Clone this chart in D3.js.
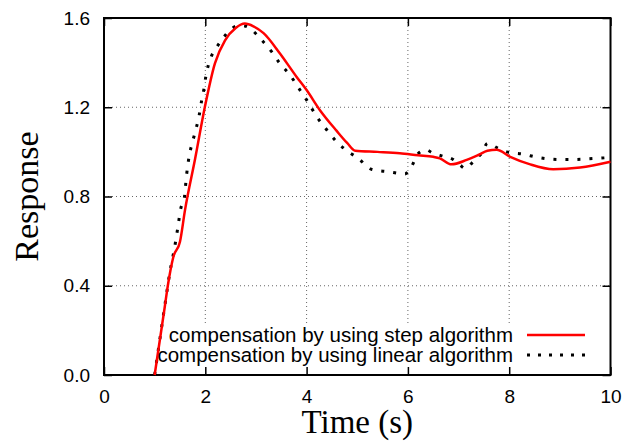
<!DOCTYPE html>
<html>
<head>
<meta charset="utf-8">
<script src="https://cdn.jsdelivr.net/npm/d3@7"></script>
<style>
  body { margin: 0; background: #fff; }
  svg text { font-family: "Liberation Sans", Arial, sans-serif; }
  .title { font-family: "Liberation Serif", "Times New Roman", serif; }
</style>
</head>
<body>
<div class="chart"></div>
<script>
// step algorithm (red)
var timeStep = [1.0, 1.2, 1.26, 1.37, 1.5, 1.6, 1.8, 1.99, 2.19, 2.39, 2.6, 2.78, 2.95, 3.15, 3.47, 3.8, 4.0, 4.26, 4.59, 4.8, 4.96,
                5.4, 5.84, 6.2, 6.5, 6.63, 6.86, 7.16, 7.39, 7.57, 7.75, 8.02, 8.4, 8.87, 9.4, 10];
var respStep = [0, 0.306, 0.4, 0.53, 0.597, 0.74, 0.97, 1.2, 1.397, 1.5, 1.555, 1.575, 1.563, 1.532, 1.442, 1.337, 1.277, 1.188, 1.095, 1.04, 1.005,
                1.0, 0.994, 0.985, 0.978, 0.971, 0.944, 0.964, 0.986, 1.005, 1.009, 0.978, 0.945, 0.922, 0.93, 0.956];

// linear algorithm (black dotted)
var timeLinear = [1.0, 1.2, 1.3, 1.4, 1.45, 1.52, 1.58, 1.63, 1.68, 1.75, 1.82, 1.88, 1.93, 1.97, 2.01, 2.06, 2.13, 2.19, 2.32, 2.49, 2.65,
                  2.78, 2.92, 3.11, 3.31, 3.47, 3.67, 3.87, 4.0, 4.2, 4.4, 4.59, 4.82, 5.02, 5.28, 5.61, 5.94, 6.07, 6.21, 6.37, 6.47,
                  6.67, 6.9, 7.03, 7.13, 7.26, 7.39, 7.46, 7.57, 7.78, 7.95, 8.27, 8.57, 9.0, 9.26, 9.66, 10];
var respLinear = [0, 0.31, 0.46, 0.58, 0.65, 0.75, 0.784, 0.896, 0.979, 1.046, 1.106, 1.165, 1.233, 1.277, 1.337, 1.389, 1.434, 1.457, 1.5, 1.546, 1.566,
                  1.564, 1.546, 1.502, 1.449, 1.397, 1.345, 1.277, 1.233, 1.158, 1.098, 1.046, 1.001, 0.971, 0.922, 0.911, 0.901, 0.934, 0.994, 1.009, 0.997,
                  0.982, 0.965, 0.941, 0.926, 0.949, 0.978, 0.994, 1.038, 1.016, 1.0, 0.99, 0.975, 0.966, 0.966, 0.97, 0.975];

var xTicks = [0, 2, 4, 6, 8, 10];
var yTicks = [0, 0.4, 0.8, 1.2, 1.6];
var legendLabels = ["compensation by using step algorithm", "compensation by using linear algorithm"];

var W = 626, H = 443;
var margin = {top: 18, right: 15.5, bottom: 68, left: 104};
var width = W - margin.left - margin.right;
var height = H - margin.top - margin.bottom;

var svg = d3.select(".chart").append("svg")
    .attr("width", W)
    .attr("height", H);

var g = svg.append("g")
    .attr("transform", "translate(" + margin.left + "," + margin.top + ")");

var x = d3.scaleLinear().domain([0, 10]).range([0, width]);
var y = d3.scaleLinear().domain([0, 1.6]).range([height, 0]);

// grid
g.selectAll(".gx").data(xTicks.slice(1, -1)).enter().append("line")
    .attr("x1", function(d) { return x(d); }).attr("x2", function(d) { return x(d); })
    .attr("y1", 0).attr("y2", height)
    .attr("stroke", "#666").attr("stroke-width", 1).attr("stroke-dasharray", "1,3");
g.selectAll(".gy").data(yTicks.slice(1, -1)).enter().append("line")
    .attr("y1", function(d) { return y(d); }).attr("y2", function(d) { return y(d); })
    .attr("x1", 0).attr("x2", width)
    .attr("stroke", "#666").attr("stroke-width", 1).attr("stroke-dasharray", "1,3");

// legend box (opaque)
g.append("rect")
    .attr("x", 52).attr("y", 307)
    .attr("width", 444).attr("height", 46)
    .attr("fill", "#fff");

// axes with inward ticks, mirrored
var tickLen = 8;
g.append("g").attr("transform", "translate(0," + height + ")")
    .call(d3.axisBottom(x).tickValues(xTicks).tickSize(-tickLen).tickPadding(tickLen + 7).tickFormat(d3.format("d")))
    .call(function(a) { a.select(".domain").remove(); });
g.append("g")
    .call(d3.axisTop(x).tickValues(xTicks).tickSize(-tickLen).tickFormat(""))
    .call(function(a) { a.select(".domain").remove(); });
g.append("g")
    .call(d3.axisLeft(y).tickValues(yTicks).tickSize(-tickLen).tickPadding(tickLen + 6).tickFormat(d3.format(".1f")))
    .call(function(a) { a.select(".domain").remove(); });
g.append("g").attr("transform", "translate(" + width + ",0)")
    .call(d3.axisRight(y).tickValues(yTicks).tickSize(-tickLen).tickFormat(""))
    .call(function(a) { a.select(".domain").remove(); });

g.selectAll(".tick line").attr("stroke", "#000").attr("stroke-width", 1.5);
g.selectAll(".tick text").attr("font-size", 19).attr("fill", "#000")
    .attr("font-family", "Liberation Sans, Arial, sans-serif");

// frame
g.append("rect")
    .attr("width", width).attr("height", height)
    .attr("fill", "none").attr("stroke", "#000").attr("stroke-width", 2);

// curves
var line = d3.line()
    .x(function(d) { return x(d[0]); })
    .y(function(d) { return y(d[1]); })
    .curve(d3.curveMonotoneX);

g.append("path")
    .datum(d3.zip(timeLinear, respLinear))
    .attr("d", line)
    .attr("fill", "none").attr("stroke", "#000")
    .attr("stroke-width", 3).attr("stroke-dasharray", "3,9");

g.append("path")
    .datum(d3.zip(timeStep, respStep))
    .attr("d", line)
    .attr("fill", "none").attr("stroke", "#f00")
    .attr("stroke-width", 2.5).attr("stroke-linejoin", "round");

// legend
var legend = g.append("g");
var styles = [{stroke: "#f00", dash: null, w: 2.5}, {stroke: "#000", dash: "3,8", w: 3}];
legendLabels.forEach(function(lab, i) {
  legend.append("text")
      .attr("x", 409).attr("y", 323.7 + i * 20)
      .attr("text-anchor", "end")
      .attr("font-size", 20.5)
      .text(lab);
  legend.append("line")
      .attr("x1", 423).attr("x2", 481)
      .attr("y1", 317 + i * 20).attr("y2", 317 + i * 20)
      .attr("stroke", styles[i].stroke)
      .attr("stroke-width", styles[i].w)
      .attr("stroke-dasharray", styles[i].dash);
});

// axis titles
svg.append("text")
    .attr("class", "title")
    .attr("x", margin.left + width / 2).attr("y", 433)
    .attr("text-anchor", "middle")
    .attr("font-size", 33)
    .text("Time (s)");

svg.append("text")
    .attr("class", "title")
    .attr("transform", "translate(38," + (margin.top + height / 2) + ") rotate(-90)")
    .attr("text-anchor", "middle")
    .attr("font-size", 34)
    .text("Response");
</script>
</body>
</html>
